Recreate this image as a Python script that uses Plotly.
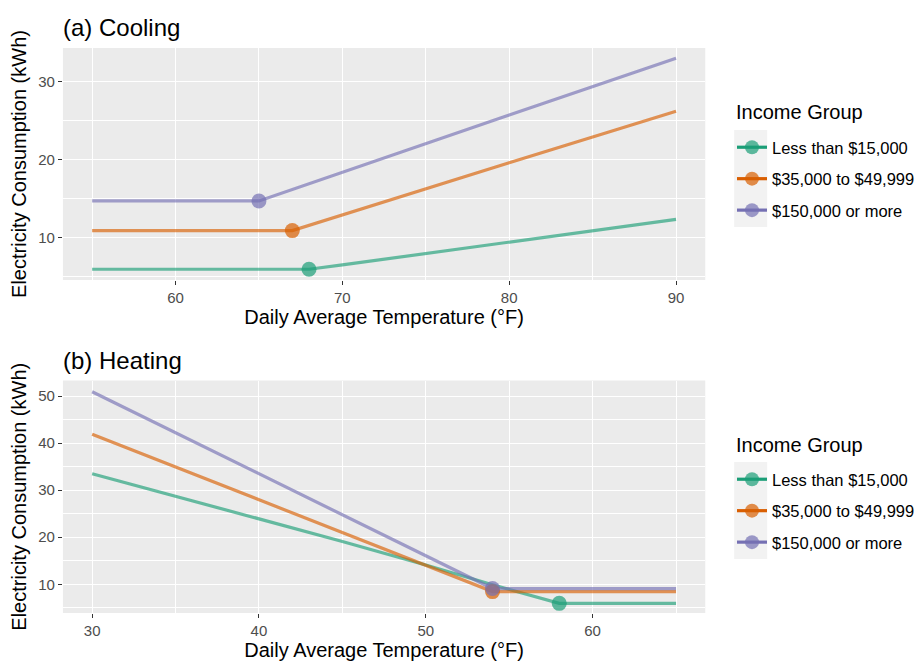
import plotly.graph_objects as go

# ---------------- data ----------------
groups = ["Less than $15,000", "$35,000 to $49,999", "$150,000 or more"]
colors = ["#1B9E77", "#D95F02", "#7570B3"]

# Cooling (panel a)
cool_x = {
    "Less than $15,000": [55, 68, 70, 80, 90],
    "$35,000 to $49,999": [55, 67, 80, 90],
    "$150,000 or more": [55, 65, 80, 90],
}
cool_y = {
    "Less than $15,000": [5.95, 5.95, 6.5, 9.45, 12.35],
    "$35,000 to $49,999": [10.9, 10.9, 19.6, 26.2],
    "$150,000 or more": [14.7, 14.7, 25.7, 33.0],
}
cool_break_x = [68, 67, 65]
cool_break_y = [5.95, 10.9, 14.7]

# Heating (panel b)
heat_x = {
    "Less than $15,000": [30, 40, 45, 50, 54, 58, 65],
    "$35,000 to $49,999": [30, 54, 65],
    "$150,000 or more": [30, 54, 65],
}
heat_y = {
    "Less than $15,000": [33.5, 24.0, 19.1, 14.1, 9.9, 5.95, 5.95],
    "$35,000 to $49,999": [41.9, 8.45, 8.45],
    "$150,000 or more": [50.9, 9.1, 9.1],
}
heat_break_x = [58, 54, 54]
heat_break_y = [5.95, 8.45, 9.1]

cool_xticks = [60, 70, 80, 90]
cool_yticks = [10, 20, 30]
heat_xticks = [30, 40, 50, 60]
heat_yticks = [10, 20, 30, 40, 50]

legend_title = "Income Group"
panel_titles = ["(a) Cooling", "(b) Heating"]
x_title = "Daily Average Temperature (°F)"
y_title = "Electricity Consumption (kWh)"


def rgba(hexc, a):
    h = hexc.lstrip("#")
    return "rgba(%d,%d,%d,%s)" % (int(h[0:2], 16), int(h[2:4], 16), int(h[4:6], 16), a)


fig = go.Figure()

panels = [
    (cool_x, cool_y, cool_break_x, cool_break_y, "x", "y", "legend"),
    (heat_x, heat_y, heat_break_x, heat_break_y, "x2", "y2", "legend2"),
]
for px, py, bx, by, xa, ya, lg in panels:
    for i, g in enumerate(groups):
        fig.add_trace(go.Scatter(
            x=px[g], y=py[g], mode="lines", xaxis=xa, yaxis=ya,
            line=dict(color=rgba(colors[i], 0.65), width=3.2),
            showlegend=False, hoverinfo="skip"))
    for i, g in enumerate(groups):
        fig.add_trace(go.Scatter(
            x=[bx[i]], y=[by[i]], mode="markers", xaxis=xa, yaxis=ya,
            marker=dict(color=rgba(colors[i], 0.7), size=15, line=dict(width=0)),
            showlegend=False, hoverinfo="skip"))
    for i, g in enumerate(groups):
        fig.add_trace(go.Scatter(
            x=[None], y=[None], mode="lines+markers", xaxis=xa, yaxis=ya,
            name=g, legend=lg, legendgroup=lg + str(i),
            line=dict(color=colors[i], width=3.2),
            marker=dict(color=rgba(colors[i], 0.7), size=14)))

font_family = "Liberation Sans, Arial, sans-serif"
grid_col = "white"


def xaxis(domain, rng, ticks, tick0, anchor):
    return dict(domain=domain, range=rng, tickvals=ticks, anchor=anchor,
                showgrid=True, gridcolor=grid_col, gridwidth=1.1,
                minor=dict(tick0=tick0, dtick=10, showgrid=True, gridcolor=grid_col, gridwidth=0.5),
                ticks="outside", ticklen=4, tickcolor="#333333", tickwidth=1.1,
                tickfont=dict(size=15, color="#4D4D4D"),
                title=dict(text=x_title, font=dict(size=20, color="black"), standoff=1),
                zeroline=False, showline=False)


def yaxis(domain, rng, ticks, anchor):
    return dict(domain=domain, range=rng, tickvals=ticks, anchor=anchor,
                showgrid=True, gridcolor=grid_col, gridwidth=1.1,
                minor=dict(tick0=5, dtick=10, showgrid=True, gridcolor=grid_col, gridwidth=0.5),
                ticks="outside", ticklen=4, tickcolor="#333333", tickwidth=1.1,
                tickfont=dict(size=15, color="#4D4D4D"),
                title=dict(text=y_title, font=dict(size=20, color="black"), standoff=6),
                zeroline=False, showline=False)


W, H = 920, 662
L, R = 63 / W, 706 / W


def legend_cfg(top_px):
    return dict(x=733 / W, y=1 - top_px / H, xanchor="left", yanchor="top",
                font=dict(size=16.5), bgcolor="rgba(0,0,0,0)",
                traceorder="grouped", tracegroupgap=7, itemwidth=30)


shapes = []
for top in (130, 462):
    shapes.append(dict(type="rect", xref="paper", yref="paper",
                       x0=735 / W, x1=768 / W, y0=1 - (top + 97) / H, y1=1 - top / H,
                       fillcolor="#F2F2F2", line=dict(width=0), layer="above"))

fig.update_layout(
    width=W, height=H,
    margin=dict(l=0, r=0, t=0, b=0),
    paper_bgcolor="white",
    plot_bgcolor="#EBEBEB",
    font=dict(family=font_family, color="black"),
    xaxis=xaxis([L, R], [53.25, 91.75], cool_xticks, 55, "y"),
    yaxis=yaxis([1 - 280 / H, 1 - 48 / H], [4.57, 34.3], cool_yticks, "x"),
    xaxis2=xaxis([L, R], [28.25, 66.75], heat_xticks, 35, "y2"),
    yaxis2=yaxis([1 - 613 / H, 1 - 380.5 / H], [3.9, 53.3], heat_yticks, "x2"),
    legend=legend_cfg(130),
    legend2=legend_cfg(462),
    shapes=shapes,
    annotations=[
        dict(text=panel_titles[0], x=61 / W, y=1 - 27 / H, xref="paper", yref="paper",
             xanchor="left", yanchor="middle", showarrow=False, font=dict(size=24)),
        dict(text=panel_titles[1], x=61 / W, y=1 - 360 / H, xref="paper", yref="paper",
             xanchor="left", yanchor="middle", showarrow=False, font=dict(size=24)),
        dict(text=legend_title, x=735 / W, y=1 - 112 / H, xref="paper", yref="paper",
             xanchor="left", yanchor="middle", showarrow=False, font=dict(size=20)),
        dict(text=legend_title, x=735 / W, y=1 - 445 / H, xref="paper", yref="paper",
             xanchor="left", yanchor="middle", showarrow=False, font=dict(size=20)),
    ],
)

fig.write_html("out.html")
